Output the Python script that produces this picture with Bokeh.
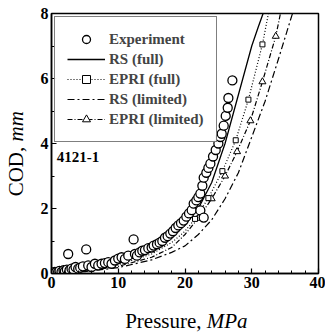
import math
from bokeh.plotting import figure
from bokeh.layouts import row, column
from bokeh.models import Range1d, Legend, LegendItem, Label, FixedTicker
from bokeh.core.properties import value
from bokeh.embed import file_html
from bokeh.resources import INLINE

# Experiment data (pressure MPa, COD mm)
exp_p = [0.1, 0.3, 0.5, 0.7, 1.0, 1.2, 1.5, 1.8, 2.0, 2.3, 2.5, 2.7, 3.0, 3.3, 3.6, 4.0, 4.3, 4.7,
         5.2, 5.5, 6.0, 6.5, 7.0, 7.5, 8.0, 8.5, 9.0, 9.5, 10.0, 10.5, 11.0, 11.5, 12.3, 12.5, 12.8,
         13.2, 13.6, 14.0, 14.5, 15.0, 15.3, 15.8, 16.2, 16.6, 17.0, 17.4, 17.8, 18.2, 18.6, 19.0,
         19.4, 19.8, 20.2, 20.6, 21.0, 21.3, 21.7, 22.0, 22.3, 22.3, 22.8, 22.6, 22.8, 23.2, 23.5,
         23.8, 24.2, 24.6, 25.0, 25.3, 25.5, 25.8, 26.1, 26.4, 26.5, 27.1]
exp_cod = [0.02, 0.03, 0.05, 0.04, 0.06, 0.08, 0.05, 0.10, 0.07, 0.12, 0.60, 0.10, 0.15, 0.12, 0.20,
           0.15, 0.18, 0.22, 0.74, 0.25, 0.20, 0.30, 0.25, 0.30, 0.32, 0.35, 0.30, 0.40, 0.46, 0.50,
           0.45, 0.55, 1.05, 0.60, 0.55, 0.65, 0.70, 0.72, 0.78, 0.80, 0.86, 0.90, 0.95, 1.00, 1.10,
           1.15, 1.23, 1.30, 1.40, 1.48, 1.55, 1.63, 1.75, 1.85, 1.95, 2.15, 2.25, 2.35, 2.46, 1.94,
           1.72, 2.70, 2.95, 3.10, 3.25, 3.38, 3.60, 3.80, 4.00, 4.20, 4.30, 4.55, 4.85, 5.10, 5.40,
           5.94]

# RS (full)
rsf_p = [0, 5, 10, 15, 18, 20, 22, 24, 26, 28, 30, 31, 31.7]
rsf_cod = [0, 0.1, 0.3, 0.7, 1.1, 1.5, 2.0, 2.8, 4.0, 5.5, 7.0, 7.6, 8.0]
# EPRI (full)
epf_p = [0, 5, 10, 15, 18, 20, 21.5, 23.5, 25.6, 27.6, 29.5, 31.6, 32.5]
epf_cod = [0, 0.09, 0.27, 0.6, 0.95, 1.3, 1.68, 2.32, 3.15, 4.1, 5.35, 7.05, 8.0]
epf_mk = [6, 7, 8, 9, 10, 11]
# RS (limited)
rsl_p = [0, 5, 10, 15, 18, 20, 22, 24, 26, 28, 30, 32, 34, 36.1]
rsl_cod = [0, 0.06, 0.18, 0.42, 0.65, 0.85, 1.2, 1.65, 2.3, 3.1, 4.2, 5.3, 6.6, 8.0]
# EPRI (limited)
epl_p = [0, 5, 10, 15, 18, 20, 22, 24, 26, 27.8, 29.8, 31.6, 33.6, 34.3]
epl_cod = [0, 0.07, 0.22, 0.5, 0.8, 1.2, 1.7, 2.3, 3.0, 3.75, 4.7, 5.9, 7.3, 8.0]
epl_mk = [6, 7, 8, 9, 10, 11, 12]

x_ticks = [0, 10, 20, 30, 40]
y_ticks = [0, 2, 4, 6, 8]
x_minor = [0, 2, 4, 6, 8, 10, 12, 14, 16, 18, 20, 22, 24, 26, 28, 30, 32, 34, 36, 38, 40]
y_minor = [0, 1, 2, 3, 4, 5, 6, 7, 8]

x_label_parts = ["Pressure, ", "MPa"]
y_label_parts = ["COD, ", "mm"]

FONT = "Liberation Serif"

# ---- main plot ----
p = figure(width=294, height=295, output_backend="svg", toolbar_location=None,
           x_range=Range1d(0, 40), y_range=Range1d(0, 8),
           min_border_left=20, min_border_right=7, min_border_top=13, min_border_bottom=22)
p.background_fill_color = "white"
p.border_fill_color = "white"
p.outline_line_color = "black"
p.outline_line_width = 1.5
p.xgrid.visible = False
p.ygrid.visible = False

for ax in (p.xaxis[0], p.yaxis[0]):
    ax.major_tick_in = 5
    ax.major_tick_out = 0
    ax.minor_tick_in = 3
    ax.minor_tick_out = 0
    ax.axis_line_width = 1.5
    ax.major_tick_line_width = 1.2
    ax.major_label_text_font = FONT
    ax.major_label_text_font_size = "16px"
    ax.major_label_text_font_style = "bold"
    ax.major_label_text_color = "black"
    ax.major_label_standoff = 3
p.xaxis[0].ticker = FixedTicker(ticks=x_ticks, minor_ticks=x_minor)
p.yaxis[0].ticker = FixedTicker(ticks=y_ticks, minor_ticks=y_minor)

r_rsl = p.line(rsl_p, rsl_cod, line_color="black", line_width=1.2, line_dash="7 3 2 3")
r_epl = p.line(epl_p, epl_cod, line_color="black", line_width=1.2, line_dash="5 2 1 2")
r_epl_m = p.scatter([epl_p[i] for i in epl_mk], [epl_cod[i] for i in epl_mk], marker="triangle",
                    size=7, line_color="black", fill_color="white", line_width=1)
r_epf = p.line(epf_p, epf_cod, line_color="black", line_width=1.2, line_dash="1 2")
r_epf_m = p.scatter([epf_p[i] for i in epf_mk], [epf_cod[i] for i in epf_mk], marker="square",
                    size=5, line_color="black", fill_color="white", line_width=1)
r_rsf = p.line(rsf_p, rsf_cod, line_color="black", line_width=1.3)
r_exp = p.scatter(exp_p, exp_cod, marker="circle", size=9, line_color="black",
                  fill_color="white", line_width=1.3)

legend = Legend(items=[
    LegendItem(label="Experiment", renderers=[r_exp]),
    LegendItem(label="RS (full)", renderers=[r_rsf]),
    LegendItem(label="EPRI (full)", renderers=[r_epf, r_epf_m]),
    LegendItem(label="RS (limited)", renderers=[r_rsl]),
    LegendItem(label="EPRI (limited)", renderers=[r_epl, r_epl_m]),
], location="top_left")
legend.label_text_font = FONT
legend.label_text_font_size = "15px"
legend.label_text_font_style = "bold"
legend.border_line_color = "black"
legend.border_line_width = 1.2
legend.margin = 3
legend.padding = 12
legend.spacing = 0
legend.glyph_width = 38
legend.label_standoff = 4
legend.label_height = 20
legend.glyph_height = 20
p.add_layout(legend)

p.add_layout(Label(x=0.8, y=3.6, text="4121-1", text_font=FONT, text_font_size="15px",
                   text_font_style="bold", text_baseline="middle", text_color="black"))

# ---- x axis title strip (below the main plot) ----
px = figure(width=294, height=37, output_backend="svg", toolbar_location=None,
            x_range=Range1d(31, 325), y_range=Range1d(0, 37),
            x_axis_type=None, y_axis_type=None, min_border=0)
px.outline_line_color = None
px.background_fill_color = "white"
px.border_fill_color = "white"
px.text(x=[202], y=[11.5], text=[x_label_parts[0]], text_font=value(FONT), text_font_size="21px",
        text_align="right", text_baseline="alphabetic", text_color="black")
px.text(x=[202], y=[11.5], text=[x_label_parts[1]], text_font=value(FONT), text_font_size="21px",
        text_font_style="italic", text_align="left", text_baseline="alphabetic",
        text_color="black")

# ---- y axis title strip (left of the main plot) ----
py = figure(width=31, height=332, output_backend="svg", toolbar_location=None,
            x_range=Range1d(0, 31), y_range=Range1d(0, 332),
            x_axis_type=None, y_axis_type=None, min_border=0)
py.outline_line_color = None
py.background_fill_color = "white"
py.border_fill_color = "white"
py.text(x=[15], y=[191], text=[y_label_parts[0]], text_font=value(FONT), text_font_size="21px",
        text_align="right", text_baseline="alphabetic", angle=math.pi / 2, text_color="black")
py.text(x=[15], y=[191], text=[y_label_parts[1]], text_font=value(FONT), text_font_size="21px",
        text_font_style="italic", text_align="left", text_baseline="alphabetic",
        angle=math.pi / 2, text_color="black")

layout = row(py, column(p, px, spacing=0), spacing=0)

open("out.html", "w").write(file_html(layout, INLINE))
